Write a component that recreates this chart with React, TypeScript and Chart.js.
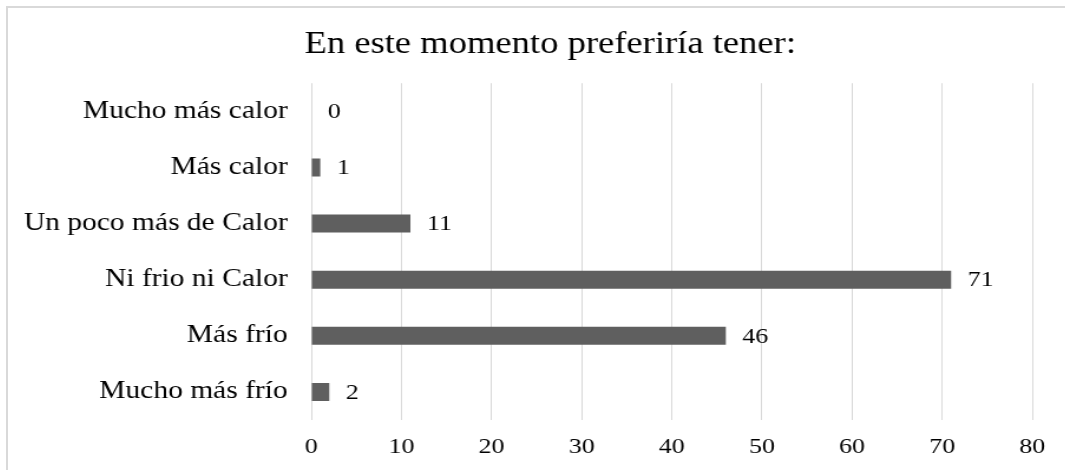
import React, { useEffect, useRef } from "react";
import { Chart, registerables } from "chart.js";

Chart.register(...registerables);

const categories = [
  "Mucho más calor",
  "Más calor",
  "Un poco más de Calor",
  "Ni frio ni Calor",
  "Más frío",
  "Mucho más frío",
];
const values = [0, 1, 11, 71, 46, 2];
const titleText = "En este momento preferiría tener:";
const xMin = 0;
const xMax = 80;
const xStep = 10;

const STRETCH = 1.18;
const FONT = "'Liberation Serif', 'Times New Roman', serif";
const TEXT = "#000000";

const valueLabels = {
  id: "valueLabels",
  afterDatasetsDraw(chart: any) {
    const ctx = chart.ctx;
    const meta = chart.getDatasetMeta(0);
    ctx.save();
    ctx.font = `22px ${FONT}`;
    ctx.fillStyle = TEXT;
    ctx.textAlign = "left";
    ctx.textBaseline = "middle";
    meta.data.forEach((bar: any, i: number) => {
      ctx.fillText(String(values[i]), bar.x + 14, bar.y + 1);
    });
    ctx.restore();
  },
};

export default function App() {
  const ref = useRef<HTMLCanvasElement | null>(null);
  useEffect(() => {
    if (!ref.current) return;
    const chart = new Chart(ref.current, {
      type: "bar",
      data: {
        labels: categories,
        datasets: [
          {
            data: values,
            backgroundColor: "#5f5f5f",
            borderWidth: 0,
            categoryPercentage: 1,
            barPercentage: 0.32,
          },
        ],
      },
      options: {
        indexAxis: "y",
        responsive: false,
        animation: false,
        devicePixelRatio: 1,
        layout: { padding: 0 },
        plugins: {
          legend: { display: false },
          tooltip: { enabled: false },
          title: {
            display: true,
            text: titleText,
            color: TEXT,
            font: { family: FONT, size: 31, weight: "normal" },
            padding: { top: 18, bottom: 20 },
          },
        },
        scales: {
          x: {
            min: xMin,
            max: xMax,
            ticks: {
              stepSize: xStep,
              color: TEXT,
              font: { family: FONT, size: 22 },
              padding: 14,
            },
            grid: { color: "#d9d9d9", drawTicks: false, lineWidth: 1 },
            border: { display: false },
            afterFit(scale: any) {
              scale.height = 58;
              scale.paddingRight = 51;
            },
          },
          y: {
            ticks: {
              color: TEXT,
              font: { family: FONT, size: 25 },
              padding: 20,
            },
            grid: { display: false, drawTicks: false },
            border: { display: false },
            afterFit(scale: any) {
              scale.width = 257;
            },
          },
        },
      },
      plugins: [valueLabels],
    });
    return () => chart.destroy();
  }, []);

  return (
    <div
      style={{
        position: "fixed",
        left: 0,
        top: 0,
        width: 1065,
        height: 470,
        overflow: "hidden",
        background: "#ffffff",
      }}
    >
      <div
        style={{
          position: "absolute",
          left: 6,
          top: 6,
          width: 2000,
          height: 2000,
          borderTop: "2px solid #d9d9d9",
          borderLeft: "2px solid #d9d9d9",
        }}
      />
      <div
        style={{
          position: "absolute",
          left: 8,
          top: 8,
          width: 919,
          height: 470,
          transform: `scaleX(${STRETCH})`,
          transformOrigin: "0 0",
        }}
      >
        <canvas
          ref={ref}
          width={919}
          height={470}
          style={{ width: "919px", height: "470px", display: "block" }}
        />
      </div>
    </div>
  );
}
